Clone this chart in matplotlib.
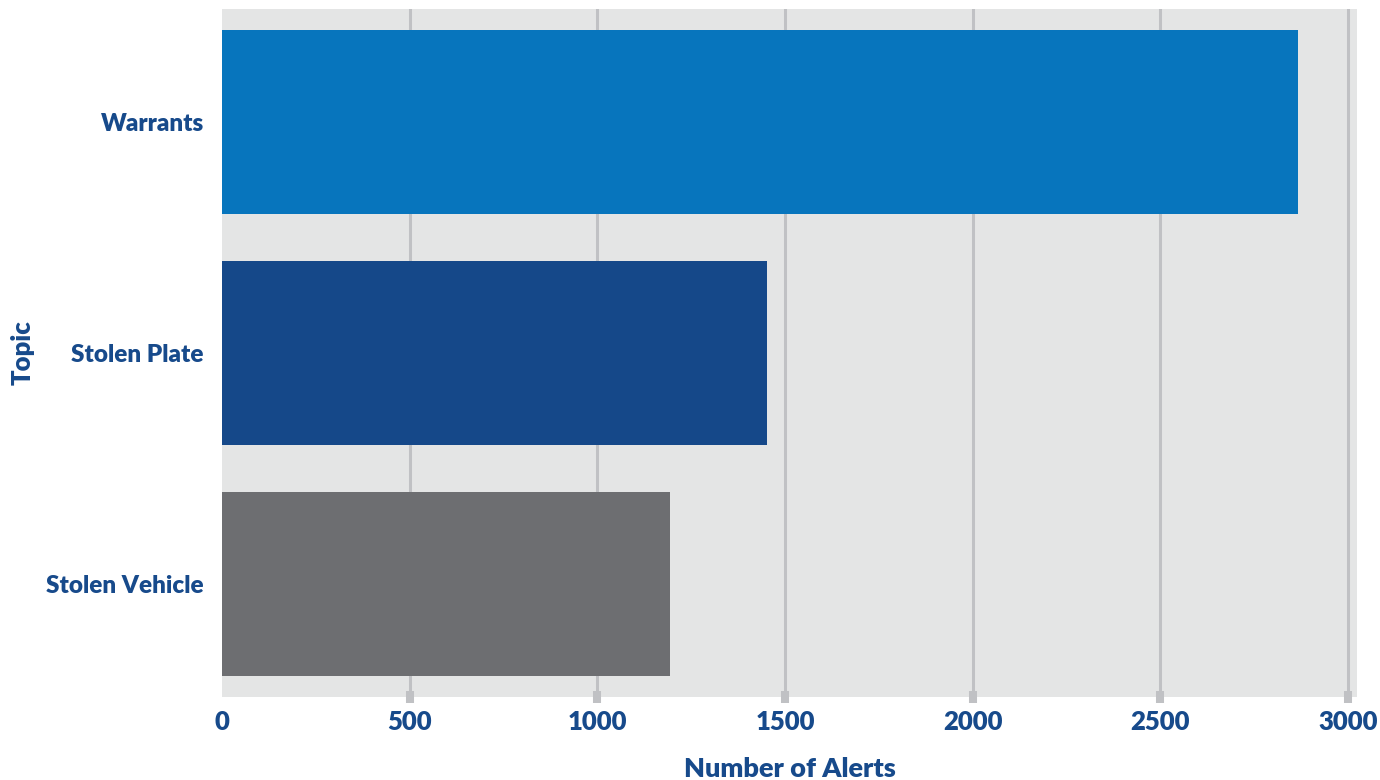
import numpy as np
import matplotlib.pyplot as plt

topics = ['Warrants', 'Stolen Plate', 'Stolen Vehicle']
alerts = [2866, 1451, 1194]
colors = ['#0775bd', '#154889', '#6d6e71']

txt = '#174a8b'
plt.rcParams['font.family'] = ['Lato', 'DejaVu Sans']

fig = plt.figure(figsize=(13.8, 7.8), dpi=100)
ax = fig.add_axes([222/1380, 1 - 697/780, (1357-222)/1380, (697-9)/780])
ax.set_facecolor('#e4e5e5')

y = np.arange(len(topics))
ax.barh(y, alerts, height=0.8, color=colors, zorder=3)

ax.set_xlim(0, 3024)
ax.set_ylim(2.49, -0.49)
ax.set_yticks(y)
ax.set_yticklabels(topics)
ax.set_xticks([0, 500, 1000, 1500, 2000, 2500, 3000])

ax.grid(axis='x', color='#c0c1c4', linewidth=2.2, zorder=1)
ax.grid(axis='y', visible=False)
for s in ax.spines.values():
    s.set_visible(False)

ax.tick_params(axis='x', direction='inout', length=9, width=5.8, color='#c0c1c4',
               labelsize=18.5, labelcolor=txt, pad=5)
ax.tick_params(axis='y', length=0, labelsize=17.5, labelcolor=txt, pad=13)
for lab in ax.get_xticklabels() + ax.get_yticklabels():
    lab.set_fontweight('heavy')

# no grid line / tick at zero in the original
ax.xaxis.get_gridlines()[0].set_visible(False)
ax.xaxis.get_major_ticks()[0].tick1line.set_visible(False)

ax.set_xlabel('Number of Alerts', fontsize=19.5, fontweight='heavy', color=txt)
ax.set_ylabel('Topic', fontsize=18.5, fontweight='heavy', color=txt)
ax.xaxis.set_label_coords(0.5, -0.104)
ax.yaxis.set_label_coords(-0.176, 0.5)
ax.xaxis.label.set_va('center')
ax.yaxis.label.set_va('center')

fig.savefig('out.png', dpi=100)
